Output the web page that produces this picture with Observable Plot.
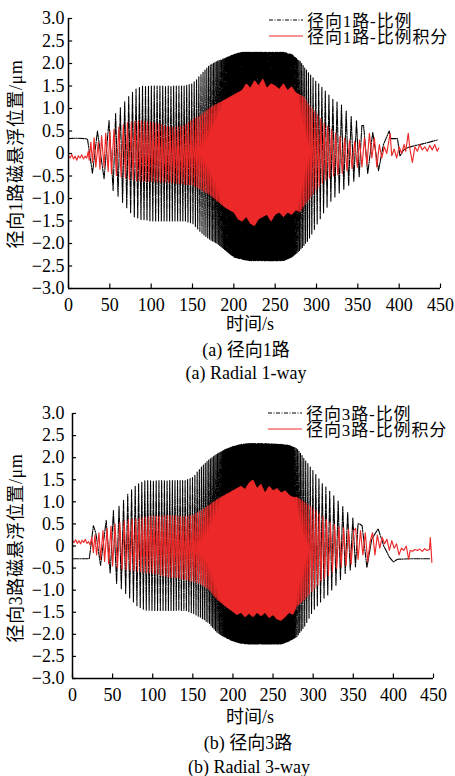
<!DOCTYPE html>
<html>
<head>
<meta charset="utf-8">
<script src="https://cdn.jsdelivr.net/npm/d3@7"></script>
<script src="https://cdn.jsdelivr.net/npm/@observablehq/plot@0.6"></script>
<style>
  body { margin: 0; background: #fff; }
  #fig { position: relative; width: 455px; height: 776px; overflow: hidden;
         font-family: "Liberation Serif", "Noto Sans CJK SC", serif; font-size: 18px; color: #000; }
  .abs { position: absolute; white-space: nowrap; line-height: 1; }
  .c { transform: translate(-50%, -50%); }
  .yl { transform: translate(-50%, -50%) rotate(-90deg); letter-spacing: 0.6px; }
  .leg { font-size: 17px; line-height: 16px; white-space: pre; letter-spacing: 0.9px; }
  svg.panel { position: absolute; left: 0; }
</style>
</head>
<body>
<div id="fig"></div>
<script>
// ---------- axes ----------
const xTicks = [0, 50, 100, 150, 200, 250, 300, 350, 400, 450];
const yTicks = [-3, -2.5, -2, -1.5, -1, -0.5, 0, 0.5, 1, 1.5, 2, 2.5, 3];

// ---------- excitation sweep: oscillation period (s) over time ----------
const sweepT      = [55, 70, 90, 150, 175, 200, 270, 285, 300, 320, 345];
const sweepPeriod = [6, 4.8, 3.6, 3.0, 1.8, 1.0, 1.0, 2.0, 3.6, 5, 6.5];

// ---------- (a) radial 1-way, proportional control ----------
const aBlackHead = [[0,0.33],[10,0.34],[20,0.33],[23,0.32],[29,-0.44],[35,0.5],[43,-0.56],[49,0.73],[54,-0.82]];
const aBlackEnvT = [55,60,70,80,90,100,120,140,150,160,170,180,190,200,210,220,240,260,270,280,290,300,310,320,330,340,350,355];
const aBlackUp   = [0.85,0.95,1.2,1.42,1.5,1.5,1.5,1.5,1.55,1.75,1.95,2.05,2.12,2.2,2.25,2.25,2.25,2.25,2.2,2.05,1.8,1.6,1.4,1.2,1.08,0.85,0.7,0.62];
const aBlackLo   = [-0.85,-0.95,-1.2,-1.42,-1.48,-1.5,-1.5,-1.5,-1.55,-1.75,-1.9,-2.0,-2.15,-2.3,-2.35,-2.38,-2.38,-2.38,-2.3,-2.15,-1.93,-1.6,-1.27,-1.0,-0.85,-0.7,-0.55,-0.45];
const aBlackTail = [[357,0.62],[362,-0.45],[368,0.47],[375,-0.38],[381,0.2],[388,0.5],[390,0.33],[398,0.33],[401,-0.06],[405,0.07],[410,0.13],[420,0.18],[430,0.22],[440,0.27],[446,0.3]];

// ---------- (a) radial 1-way, PI control ----------
const aRedHead = [[0,-0.05],[2,-0.1],[4,-0.02],[6,-0.12],[8,-0.06],[10,-0.15],[12,-0.05],[14,-0.1],[16,-0.03],[18,-0.12],[20,-0.06],[22,-0.1],[24,0.05],[25,-0.15],[27,0.25],[29,-0.2],[31,0.35],[33,-0.3],[36,0.25],[38,-0.35],[40,0.4],[43,-0.3],[45,0.45],[48,-0.4],[50,0.5],[52,-0.45]];
const aRedEnvT = [52,60,70,80,90,100,110,120,130,140,150,160,170,180,190,200,205,210,215,220,225,230,235,240,245,250,255,260,265,270,275,280,285,290,300,310,320,330,340,350];
const aRedUp   = [0.5,0.58,0.68,0.72,0.72,0.7,0.66,0.6,0.58,0.62,0.75,0.85,1.0,1.1,1.2,1.3,1.35,1.4,1.55,1.45,1.62,1.5,1.66,1.45,1.55,1.5,1.42,1.55,1.4,1.48,1.35,1.3,1.25,1.1,0.9,0.66,0.5,0.36,0.3,0.25];
const aRedLo   = [-0.45,-0.5,-0.55,-0.6,-0.62,-0.62,-0.64,-0.64,-0.66,-0.68,-0.7,-0.8,-0.9,-1.05,-1.2,-1.3,-1.45,-1.5,-1.4,-1.55,-1.6,-1.45,-1.4,-1.35,-1.5,-1.35,-1.3,-1.4,-1.3,-1.35,-1.25,-1.3,-1.15,-1.04,-0.8,-0.6,-0.5,-0.45,-0.35,-0.3];
const aRedTail = [[352,0.3],[355,-0.3],[358,0.35],[361,-0.25],[364,0.45],[367,-0.1],[370,0.35],[373,-0.3],[376,0.2],[379,-0.1],[382,0.15],[385,0.0],[389,0.45],[391,-0.05],[394,0.1],[397,-0.1],[400,0.15],[403,0.0],[406,0.2],[408,0.05],[411,0.45],[413,0.1],[416,-0.2],[419,0.15],[422,0.05],[425,0.2],[428,0.08],[431,0.15],[434,0.05],[437,0.18],[440,0.08],[443,0.2],[446,0.05],[448,0.12]];

// ---------- (b) radial 3-way, proportional control ----------
const bBlackHead = [[0,-0.29],[10,-0.29],[20,-0.29],[21,-0.28],[26,0.46],[29,0.3],[35,-0.44],[42,0.58],[47,-0.62],[51,0.8],[55,-0.85]];
const bBlackEnvT = [56,60,70,80,90,100,120,140,150,160,170,180,190,200,210,220,240,260,270,280,290,300,310,320,330,340,350,355];
const bBlackUp   = [0.85,0.95,1.2,1.4,1.48,1.48,1.48,1.48,1.55,1.78,1.95,2.08,2.18,2.25,2.3,2.32,2.32,2.3,2.28,2.2,1.95,1.7,1.45,1.25,1.05,0.82,0.62,0.5];
const bBlackLo   = [-0.85,-0.95,-1.15,-1.35,-1.45,-1.46,-1.46,-1.46,-1.52,-1.62,-1.75,-1.95,-2.07,-2.15,-2.2,-2.22,-2.22,-2.22,-2.15,-2.05,-1.8,-1.46,-1.25,-1.08,-0.85,-0.62,-0.5,-0.45];
const bBlackTail = [[358,0.5],[361,0.46],[367,-0.49],[373,0.15],[381,0.39],[388,0.0],[395,-0.25],[400,-0.36],[405,-0.3],[420,-0.29],[446,-0.29]];

// ---------- (b) radial 3-way, PI control ----------
const bRedHead = [[0,0.12],[2,0.08],[4,0.14],[6,0.06],[8,0.12],[10,0.05],[12,0.13],[14,0.08],[16,0.15],[18,0.06],[20,0.1],[22,0.02],[24,0.2],[26,-0.15],[28,0.25],[30,-0.2],[33,0.3],[35,-0.3],[38,0.35],[40,-0.35],[43,0.4],[45,-0.4],[48,0.45],[50,-0.45],[53,0.5]];
const bRedEnvT = [55,60,70,80,90,100,110,120,130,140,150,160,170,180,190,200,205,210,215,220,225,230,235,240,245,250,255,260,265,270,275,280,290,300,310,320,330,340,350];
const bRedUp   = [0.5,0.55,0.6,0.62,0.65,0.68,0.68,0.7,0.68,0.66,0.7,0.8,0.92,1.05,1.15,1.25,1.3,1.35,1.28,1.42,1.5,1.3,1.4,1.2,1.35,1.25,1.3,1.2,1.25,1.15,1.1,1.1,0.98,0.85,0.7,0.55,0.45,0.4,0.35];
const bRedLo   = [-0.5,-0.52,-0.55,-0.57,-0.6,-0.62,-0.66,-0.7,-0.72,-0.76,-0.8,-0.86,-0.98,-1.2,-1.35,-1.48,-1.55,-1.5,-1.6,-1.52,-1.6,-1.5,-1.58,-1.5,-1.62,-1.55,-1.65,-1.68,-1.6,-1.5,-1.55,-1.35,-1.2,-1.0,-0.8,-0.65,-0.5,-0.45,-0.4];
const bRedTail = [[353,0.4],[356,-0.3],[359,0.35],[362,-0.2],[365,0.3],[368,-0.35],[371,0.1],[374,0.3],[377,-0.2],[380,0.25],[383,-0.05],[386,0.2],[389,0.05],[392,0.15],[395,-0.1],[398,0.12],[401,-0.05],[404,0.05],[407,-0.2],[410,-0.05],[413,-0.1],[416,0.0],[419,-0.3],[421,-0.1],[424,-0.12],[427,-0.08],[430,-0.1],[433,-0.07],[436,-0.12],[439,-0.06],[442,-0.1],[445,-0.08],[446,0.19],[448,-0.37]];

// Dense oscillating section: alternate between the upper and lower envelope,
// stepping half an excitation period at a time.
function sweep(t0, t1, envT, up, lo, startUp) {
  const U = d3.scaleLinear(envT, up).clamp(true);
  const L = d3.scaleLinear(envT, lo).clamp(true);
  const P = d3.scaleLinear(sweepT, sweepPeriod).clamp(true);
  const out = [];
  let t = t0 + P(t0) / 2, high = startUp;
  while (t < t1) {
    out.push([t, high ? U(t) : L(t)]);
    t += P(t) / 2;
    high = !high;
  }
  return out;
}
const rows = arr => arr.map(([t, v]) => ({t, v}));
function trace(head, envT, up, lo, tail) {
  const t0 = head[head.length - 1][0];
  const startUp = head[head.length - 1][1] < 0;
  return rows([...head, ...sweep(t0, tail[0][0] - 1, envT, up, lo, startUp), ...tail]);
}

const fmtY = d => d === 0 ? "0" : (d < 0 ? "\u2212" : "") + Math.abs(d).toFixed(1);
const RED = "#ec2828";
const DASH = "6,1.2,1.2,1.2";
const FONT = '"Liberation Serif", "Noto Sans CJK SC", serif';

function panel({top, left, right, plotH, ypad, black, red}) {
  const height = plotH + 18 + 30;
  const svg = Plot.plot({
    width: 455,
    height,
    marginTop: 18,
    marginLeft: left,
    marginRight: 455 - right,
    marginBottom: height - 18 - plotH,
    x: {domain: [0, 450], label: null, axis: null},
    y: {domain: [-3, 3], label: null, axis: null},
    style: {fontFamily: FONT, fontSize: "18px", background: "transparent", color: "#000", overflow: "visible"},
    marks: [
      Plot.line(black, {x: "t", y: "v", stroke: "#000", strokeWidth: 1.1, strokeDasharray: DASH}),
      Plot.line(red, {x: "t", y: "v", stroke: RED, strokeWidth: 1.15}),
      Plot.ruleX(xTicks, {y1: -3, y2: -2.9, stroke: "#000", strokeWidth: 1.2}),
      Plot.ruleY(yTicks, {x1: 0, x2: 5, stroke: "#000", strokeWidth: 1.2}),
      Plot.ruleX([0], {y1: -3, y2: 3, stroke: "#000", strokeWidth: 1.5}),
      Plot.ruleY([-3], {x1: 0, x2: 450, stroke: "#000", strokeWidth: 1.5}),
      Plot.axisX({ticks: xTicks, tickSize: 0, tickPadding: 10, label: null, fontSize: 18, tickFormat: d => String(d)}),
      Plot.axisY({ticks: yTicks, tickSize: 0, tickPadding: ypad, label: null, fontSize: 18, tickFormat: fmtY})
    ]
  });
  svg.classList.add("panel");
  svg.style.top = top + "px";
  return svg;
}

const fig = document.getElementById("fig");
function text(str, x, y, cls) {
  const d = document.createElement("div");
  d.className = "abs " + cls;
  d.style.left = x + "px";
  d.style.top = y + "px";
  d.textContent = str;
  fig.appendChild(d);
  return d;
}
function legendSample(x, y, stroke, dash) {
  const s = document.createElementNS("http://www.w3.org/2000/svg", "svg");
  s.setAttribute("width", 36); s.setAttribute("height", 6);
  s.style.position = "absolute"; s.style.left = x + "px"; s.style.top = (y - 3) + "px";
  const l = document.createElementNS("http://www.w3.org/2000/svg", "line");
  l.setAttribute("x1", 0); l.setAttribute("x2", 34); l.setAttribute("y1", 3); l.setAttribute("y2", 3);
  l.setAttribute("stroke", stroke); l.setAttribute("stroke-width", 1.2);
  if (dash) l.setAttribute("stroke-dasharray", dash);
  s.appendChild(l);
  fig.appendChild(s);
}
// Two-row legend: samples on the left, both labels in one block.
function legend(labels, x, y) {
  legendSample(x, y, "#000", "4,1.5,1,1.5");
  legendSample(x, y + 16, RED, null);
  text(labels.join("\n"), x + 38, y - 6, "leg");
}

// panel (a)
fig.appendChild(panel({
  top: 0, left: 68, right: 440, plotH: 270, ypad: 4,
  black: trace(aBlackHead, aBlackEnvT, aBlackUp, aBlackLo, aBlackTail),
  red: trace(aRedHead, aRedEnvT, aRedUp, aRedLo, aRedTail)
}));
legend(["径向1路-比例", "径向1路-比例积分"], 269, 20);
text("径向1路磁悬浮位置/μm", 16, 154, "yl");
text("时间/s", 250, 324, "c");
text("(a) 径向1路", 246, 350, "c");
text("(a) Radial 1-way", 246, 373, "c");

// panel (b)
fig.appendChild(panel({
  top: 395, left: 72, right: 433, plotH: 265, ypad: 8,
  black: trace(bBlackHead, bBlackEnvT, bBlackUp, bBlackLo, bBlackTail),
  red: trace(bRedHead, bRedEnvT, bRedUp, bRedLo, bRedTail)
}));
legend(["径向3路-比例", "径向3路-比例积分"], 268, 413);
text("径向3路磁悬浮位置/μm", 16, 548, "yl");
text("时间/s", 250, 717, "c");
text("(b) 径向3路", 248, 743, "c");
text("(b) Radial 3-way", 249, 767, "c");
</script>
</body>
</html>
